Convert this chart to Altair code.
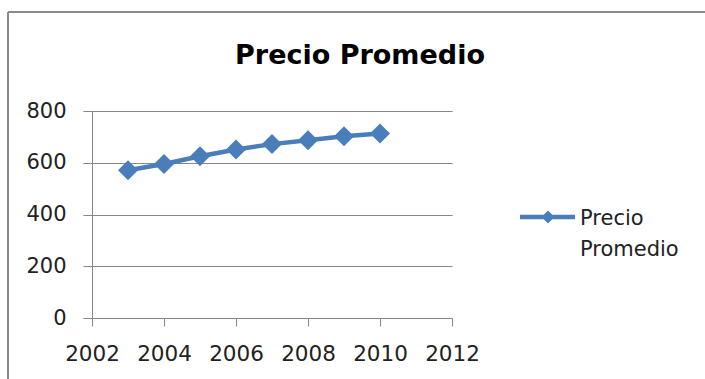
import altair as alt
import pandas as pd

years = [2003, 2004, 2005, 2006, 2007, 2008, 2009, 2010]
precios = [571, 595, 625, 651, 672, 687, 702, 713]
series_name = "Precio Promedio"
title_text = "Precio Promedio"
legend_lines = ["Precio", "Promedio"]
x_ticks = [2002, 2004, 2006, 2008, 2010, 2012]
y_ticks = [0, 200, 400, 600, 800]

BLUE = "#4A7EBB"
GRAY = "#878787"
FONT = "DejaVu Sans"

df = pd.DataFrame({"year": years, "precio": precios, "serie": series_name})

x = alt.X("year:Q", scale=alt.Scale(domain=[2002, 2012], nice=False, zero=False),
          axis=alt.Axis(values=x_ticks, format="d", title=None, grid=False,
                        domainColor=GRAY, tickColor=GRAY, tickSize=8,
                        labelFont=FONT, labelFontSize=21.5, labelColor="#222222",
                        labelPadding=17, labelFlush=False))
y = alt.Y("precio:Q", scale=alt.Scale(domain=[0, 800], nice=False),
          axis=alt.Axis(values=y_ticks, title=None, grid=True, gridColor=GRAY,
                        domainColor=GRAY, tickColor=GRAY, tickSize=9,
                        labelFont=FONT, labelFontSize=21, labelColor="#222222",
                        labelPadding=17))

base = alt.Chart(df)
line = base.mark_line(color=BLUE, strokeWidth=4.5).encode(x=x, y=y)
pts = base.mark_point(shape="diamond", filled=True, color=BLUE, size=400, opacity=1).encode(x=x, y=y)

one = pd.DataFrame({"k": [0]})
frame_left = alt.Chart(one).mark_rule(color="#8a8a8a", strokeWidth=2).encode(
    x=alt.value(-84), y=alt.value(-99), y2=alt.value(300))
frame_top = alt.Chart(one).mark_rule(color="#8a8a8a", strokeWidth=2).encode(
    x=alt.value(-84), x2=alt.value(640), y=alt.value(-99))

title = alt.Chart(pd.DataFrame({"t": [title_text]})).mark_text(
    font=FONT, fontSize=27, fontWeight="bold", color="#000000",
    align="center", baseline="alphabetic").encode(
    text="t:N", x=alt.value(268), y=alt.value(-47))

leg_line = alt.Chart(one).mark_rule(color=BLUE, strokeWidth=4.5).encode(
    x=alt.value(428), x2=alt.value(483), y=alt.value(106))
leg_pt = alt.Chart(one).mark_point(shape="diamond", filled=True, color=BLUE, size=170, opacity=1).encode(
    x=alt.value(456), y=alt.value(106))
leg_text1 = alt.Chart(pd.DataFrame({"t": [legend_lines[0]]})).mark_text(
    font=FONT, fontSize=21, color="#222222", align="left", baseline="alphabetic").encode(
    text="t:N", x=alt.value(488), y=alt.value(114))
leg_text2 = alt.Chart(pd.DataFrame({"t": [legend_lines[1]]})).mark_text(
    font=FONT, fontSize=21, color="#222222", align="left", baseline="alphabetic").encode(
    text="t:N", x=alt.value(488), y=alt.value(145))

chart = alt.layer(frame_left, frame_top, line, pts, title, leg_line, leg_pt,
                  leg_text1, leg_text2).properties(
    width=360, height=207,
    autosize=alt.AutoSizeParams(type="none"),
    padding={"left": 92, "top": 111, "right": 253, "bottom": 61},
    background="#ffffff",
).configure_view(stroke=None)

chart.save("out.html", embed_options={"renderer": "svg", "actions": False})
